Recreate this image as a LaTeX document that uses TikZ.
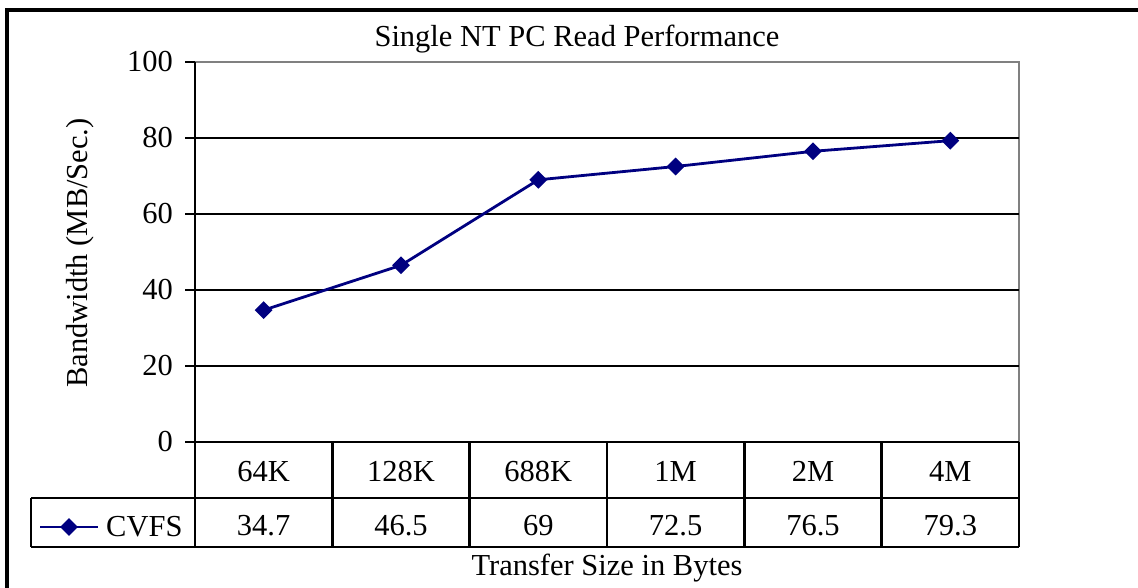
\documentclass[tikz,border=0pt]{standalone}
\usepackage{fontspec}
\setmainfont{Liberation Serif}
\usetikzlibrary{shapes.geometric,calc}

\definecolor{cvfsblue}{RGB}{0,0,128}

\tikzset{
    grid line/.style={line width=2.5pt, black},
    plot border/.style={line width=2.2pt, gray},
    table line/.style={line width=2.8pt, black},
    cvfs line/.style={line width=2.8pt, cvfsblue},
    cvfs mark/.style={diamond, fill=cvfsblue, inner sep=0pt,
        minimum width=18pt, minimum height=18pt},
    chart text/.style={font=\fontsize{30.5}{36}\selectfont, inner sep=0pt},
}

\begin{document}
\begin{tikzpicture}[x=1pt, y=1pt]

    \useasboundingbox (0,0) rectangle (1138,587);
    \clip (0,0) rectangle (1138,587);

    % frame
    \draw[line width=3.5pt]
        (7,-20) --
        (7,577) --
        (1160,577);

    % plot area
    \coordinate (orig) at (195,145);
    \coordinate (top_right) at (1019,525);
    \draw[plot border]
        (orig |- top_right) --
        (top_right) --
        (top_right |- orig);

    % gridlines and value axis
    \foreach \v in {20,40,60,80} {
        \draw[grid line] (185,145+\v*3.8) -- (1019,145+\v*3.8);
    }
    \draw[grid line] (185,525) -- (195,525);
    \draw[grid line] (185,145) -- (195,145);
    \foreach \v in {0,20,...,100} {
        \node[chart text, anchor=east] (tick_\v) at (173,145+\v*3.8) {\v};
    }
    \draw[table line] (195,525) -- (195,40);

    % data table
    \draw[table line] (195,145) -- (1019,145);
    \draw[table line] (31,89) -- (1019,89);
    \draw[table line] (31,40) -- (1019,40);
    \draw[table line] (31,89) -- (31,40);
    \foreach \k in {1,...,6} {
        \draw[table line] (195+\k*137.33,145) -- (195+\k*137.33,40);
    }
    \foreach \size/\val [count=\i] in {64K/34.7, 128K/46.5, 688K/69, 1M/72.5, 2M/76.5, 4M/79.3} {
        \node[chart text, anchor=base] (size_\i) at (195+\i*137.33-68.67,106) {\size};
        \node[chart text, anchor=base] (val_\i) at (195+\i*137.33-68.67,52) {\val};
        \coordinate (p_\i) at (195+\i*137.33-68.67,145+\val*3.8);
    }

    % CVFS series
    \draw[cvfs line]
        (p_1) -- (p_2) -- (p_3) -- (p_4) -- (p_5) -- (p_6);
    \foreach \i in {1,...,6} {
        \node[cvfs mark] (mark_\i) at (p_\i) {};
    }

    % legend key
    \coordinate (key_left) at (40,60);
    \coordinate (key_right) at (98,60);
    \draw[cvfs line] (key_left) -- (key_right);
    \node[cvfs mark] (key_mark) at ($(key_left)!0.5!(key_right)$) {};
    \node[chart text, anchor=base west] (key_text) at (106,51) {CVFS};

    % titles
    \node[chart text, anchor=base] (title) at (577,540) {Single NT PC Read Performance};
    \node[chart text, anchor=base] (x_label) at (607,12) {Transfer Size in Bytes};
    \node[chart text, anchor=base, rotate=90] (y_label) at (87,334) {Bandwidth (MB/Sec.)};

\end{tikzpicture}
\end{document}
